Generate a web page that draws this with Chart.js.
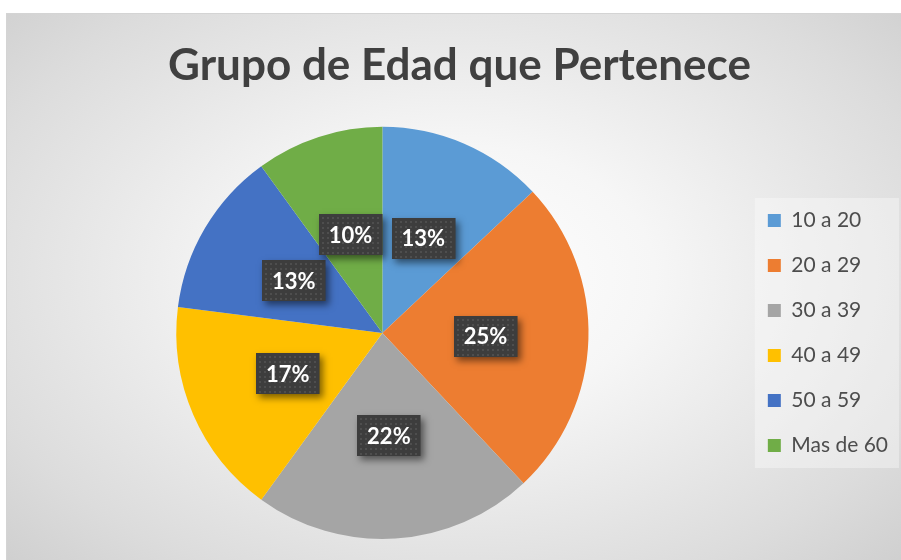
<!DOCTYPE html>
<html>
<head>
<meta charset="utf-8">
<script src="https://cdn.jsdelivr.net/npm/chart.js@4.4.1/dist/chart.umd.min.js"></script>
<style>
  html, body { margin: 0; padding: 0; background: #ffffff; }
  #marco {
    position: absolute; left: 6px; top: 13px; width: 895px; height: 547px;
    border-top: 1px solid #d4d4d4; border-left: 1px solid #d4d4d4; box-sizing: border-box;
    background: radial-gradient(ellipse 75% 80% at 50% 48%, #ffffff 0%, #f6f6f6 30%, #dcdcdc 75%, #cbcbcb 100%);
  }
  #grafico { display: block; }
</style>
</head>
<body>
<div id="marco"><canvas id="grafico" width="894" height="546"></canvas></div>
<script>
// datos
const grupos = ["10 a 20", "20 a 29", "30 a 39", "40 a 49", "50 a 59", "Mas de 60"];
const porcentajes = [13, 25, 22, 17, 13, 10];
const colores = ["#5B9BD5", "#ED7D31", "#A5A5A5", "#FFC000", "#4472C4", "#70AD47"];
const titulo = "Grupo de Edad que Pertenece";

const fuente = "Lato";

// fondo claro detras de la leyenda
const fondoLeyenda = {
  id: "fondoLeyenda",
  beforeDraw(chart) {
    const lg = chart.legend;
    const ctx = chart.ctx;
    const x0 = lg.left + 11;
    ctx.save();
    ctx.fillStyle = "rgba(255,255,255,0.35)";
    ctx.fillRect(x0, 184, chart.width - 2 - x0, 270);
    ctx.restore();
  }
};

// etiquetas oscuras con porcentaje
const etiquetas = {
  id: "etiquetas",
  afterDatasetsDraw(chart) {
    const ctx = chart.ctx;
    const meta = chart.getDatasetMeta(0);
    ctx.save();
    ctx.font = "bold 22px " + fuente;
    ctx.textAlign = "center";
    ctx.textBaseline = "middle";
    meta.data.forEach((arc, i) => {
      const pos = arc.tooltipPosition();
      const txt = porcentajes[i] + "%";
      const w = ctx.measureText(txt).width + 20;
      const h = 41;
      const x = Math.round(pos.x - w / 2);
      const y = Math.round(pos.y - h / 2);
      ctx.save();
      ctx.shadowColor = "rgba(0,0,0,0.5)";
      ctx.shadowBlur = 7;
      ctx.shadowOffsetX = 3;
      ctx.shadowOffsetY = 4;
      ctx.fillStyle = "#3d3d3d";
      ctx.fillRect(x, y, w, h);
      ctx.restore();
      // puntitos del relleno
      ctx.fillStyle = "#4e4e4e";
      for (let dy = 3; dy < h - 1; dy += 5) {
        for (let dx = 3; dx < w - 1; dx += 5) {
          ctx.fillRect(x + dx, y + dy, 2, 2);
        }
      }
      ctx.fillStyle = "#ffffff";
      ctx.fillText(txt, pos.x, pos.y + 1);
    });
    ctx.restore();
  }
};

new Chart(document.getElementById("grafico"), {
  type: "pie",
  data: {
    labels: grupos,
    datasets: [{
      data: porcentajes,
      backgroundColor: colores,
      borderWidth: 0
    }]
  },
  options: {
    responsive: false,
    animation: false,
    events: [],
    layout: { padding: { top: 0, bottom: 21, left: 14, right: 3 } },
    plugins: {
      title: {
        display: true,
        text: titulo,
        color: "#404040",
        font: { family: fuente, size: 44, weight: "bold" },
        padding: { top: 25, bottom: 35 }
      },
      legend: {
        position: "right",
        fullSize: false,
        labels: {
          color: "#4d4d4d",
          font: { family: fuente, size: 21 },
          boxWidth: 13,
          boxHeight: 13,
          padding: 24
        }
      },
      tooltip: { enabled: false }
    }
  },
  plugins: [fondoLeyenda, etiquetas]
});
</script>
</body>
</html>
